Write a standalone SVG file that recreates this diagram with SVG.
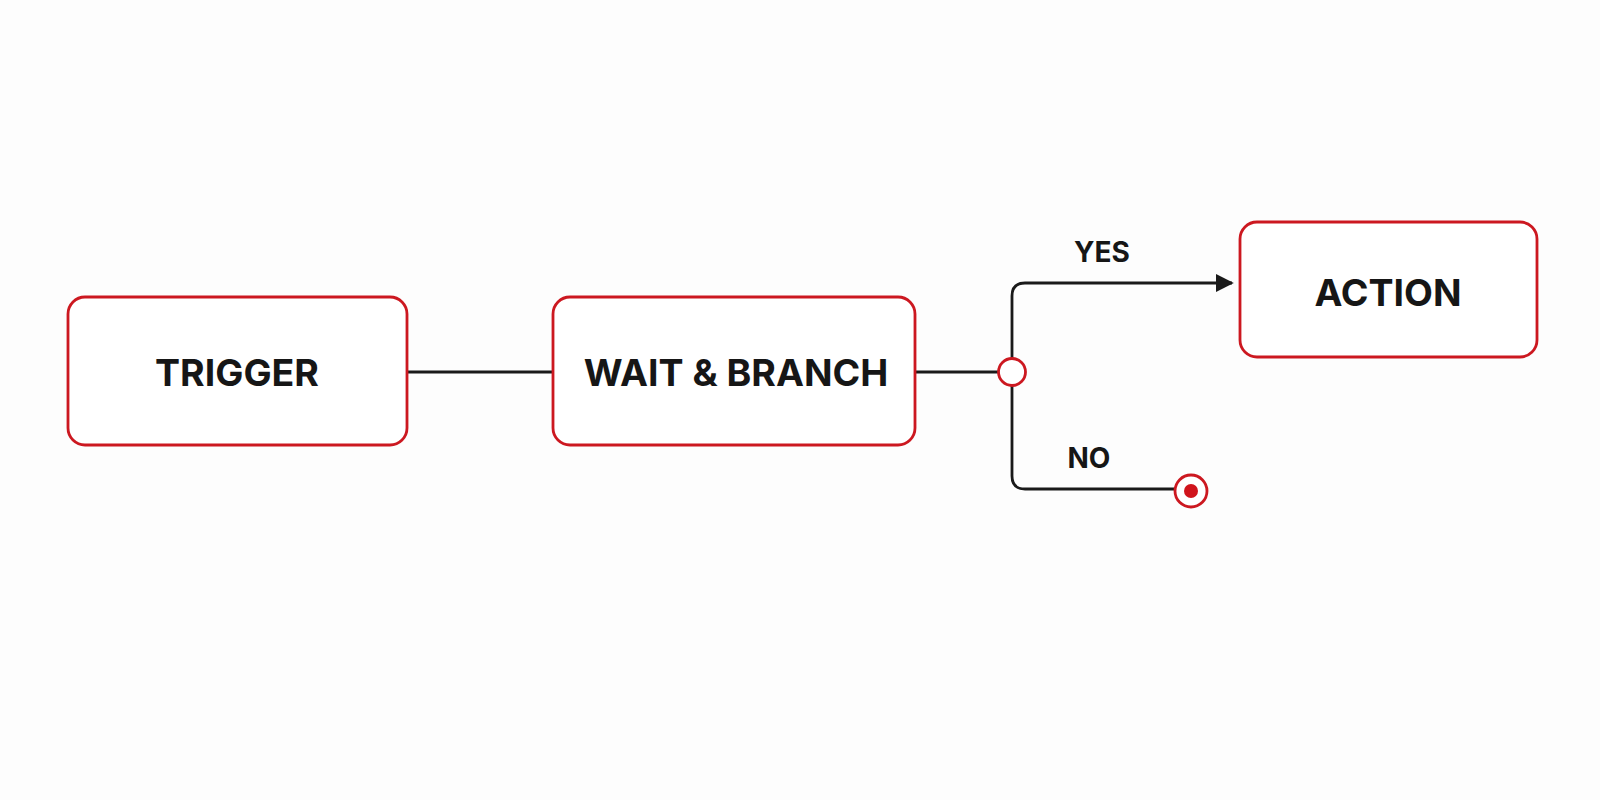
<svg xmlns="http://www.w3.org/2000/svg" width="1600" height="800" viewBox="0 0 1600 800">
<defs>
<style>
.box{fill:#ffffff;stroke:#cc1820;stroke-width:2.8}
.lbl{font-family:Inter,"Liberation Sans",Arial,sans-serif;font-weight:700;fill:#161616;text-anchor:middle;dominant-baseline:central}
.big{font-size:37.5px}
.small{font-size:28px}
.wire{fill:none;stroke:#1a1a1a;stroke-width:2.8}
</style>
<marker id="arr" viewBox="0 0 10 10" refX="9" refY="5" markerWidth="6.5" markerHeight="6.5" markerUnits="strokeWidth" orient="auto">
<path d="M0,0 L10,5 L0,10 z" fill="#1a1a1a"/>
</marker>
</defs>
<rect width="1600" height="800" fill="#fdfdfd"/>
<g id="connectors">
<line class="wire" x1="407" y1="372" x2="553" y2="372"/>
<line class="wire" x1="916" y1="372" x2="998" y2="372"/>
<path class="wire" d="M1012,358 V296 Q1012,283 1025,283 H1232" marker-end="url(#arr)"/>
<path class="wire" d="M1012,386 V476 Q1012,489 1025,489 H1174"/>
<text class="lbl small" x="1102" y="252">YES</text>
<text class="lbl small" x="1089" y="458">NO</text>
</g>
<g id="trigger">
<rect class="box" x="68" y="297" width="339" height="148" rx="17"/>
<text class="lbl big" x="237" y="372">TRIGGER</text>
</g>
<g id="wait-branch">
<rect class="box" x="553" y="297" width="362" height="148" rx="17"/>
<text class="lbl big" x="736" y="372">WAIT &amp; BRANCH</text>
</g>
<g id="action">
<rect class="box" x="1240" y="222" width="297" height="135" rx="17"/>
<text class="lbl big" x="1388" y="292">ACTION</text>
</g>
<g id="branch-point">
<circle cx="1012" cy="372" r="13.5" fill="#ffffff" stroke="#cc1820" stroke-width="2.8"/>
</g>
<g id="end">
<circle cx="1191" cy="491" r="16" fill="#ffffff" stroke="#cc1820" stroke-width="2.8"/>
<circle cx="1191" cy="491" r="7" fill="#d0141c"/>
</g>
</svg>
